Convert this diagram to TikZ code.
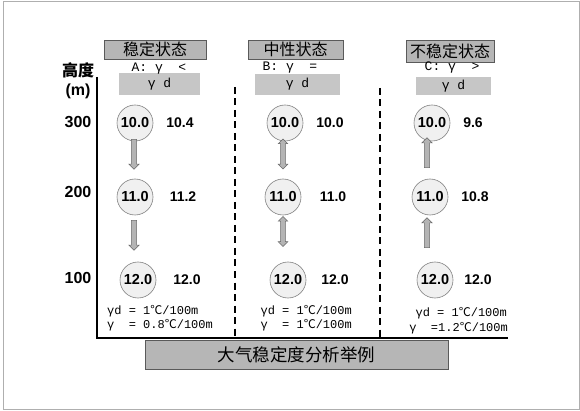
\documentclass[tikz,border=0pt]{standalone}
\usepackage{fontspec}
\setmainfont{Liberation Sans}
\setmonofont{Liberation Mono}
\newfontfamily\cjk{Noto Sans CJK SC}
\usetikzlibrary{shapes.arrows,calc}
\definecolor{hdrfill}{RGB}{182,182,182}
\definecolor{hdrdraw}{RGB}{90,90,90}
\definecolor{gdfill}{RGB}{198,198,198}
\definecolor{circfill}{RGB}{240,240,240}
\definecolor{circdraw}{RGB}{130,130,130}
\definecolor{arrfill}{RGB}{180,180,180}
\definecolor{arrdraw}{RGB}{105,105,105}
\definecolor{framec}{RGB}{175,175,175}
\newcommand{\degc}{{\cjk ℃}}
\begin{document}
\begin{tikzpicture}[x=1pt,y=-1pt,
 hdr/.style={draw=hdrdraw,fill=hdrfill,line width=0.8pt,inner sep=0,font=\cjk\fontsize{16}{16}\selectfont},
 gdbox/.style={fill=gdfill,inner sep=0,font=\ttfamily\fontsize{13}{13}\selectfont},
 cond/.style={inner sep=0,font=\ttfamily\fontsize{13}{13}\selectfont},
 circ/.style={circle,draw=circdraw,fill=circfill,line width=0.6pt,minimum size=36pt,inner sep=0,font=\bfseries\fontsize{14.5}{14.5}\selectfont},
 val/.style={inner sep=0,font=\bfseries\fontsize{14}{14}\selectfont},
 rowlab/.style={inner sep=0,font=\bfseries\fontsize{16}{16}\selectfont},
 formula/.style={inner sep=0,font=\ttfamily\fontsize{12}{12}\selectfont},
 blockarrow/.style={single arrow,draw=arrdraw,fill=arrfill,line width=0.5pt,inner sep=2.4pt,single arrow head extend=2.6pt,single arrow head indent=0pt,minimum height=30pt,shape border rotate=#1},
 dblarrow/.style={double arrow,draw=arrdraw,fill=arrfill,line width=0.5pt,inner sep=2.2pt,double arrow head extend=2.3pt,double arrow head indent=0pt,minimum height=30pt,shape border rotate=90},
 sep/.style={line width=2.2pt,dash pattern=on 7pt off 4.5pt}
]
\useasboundingbox (0,0) rectangle (580,411);
\fill[white] (0,0) rectangle (580,411);
\draw[framec,line width=1pt] (3,2) rectangle (579,409);

% headers
\node[hdr,minimum width=102pt,minimum height=19pt] (hA) at (155,49.5) {稳定状态};
\node[hdr,minimum width=95pt,minimum height=19pt] (hB) at (295.5,49.5) {中性状态};
\node[hdr,minimum width=88pt,minimum height=22pt] (hC) at (450,51) {不稳定状态};
\node[gdbox,minimum width=81pt,minimum height=22pt] (gA) at (159.5,84) {γ d};
\node[gdbox,minimum width=85pt,minimum height=21pt] (gB) at (297.5,84.5) {γ d};
\node[gdbox,minimum width=75pt,minimum height=18pt] (gC) at (453.5,86) {γ d};
\node[cond] (cA) at (159,69) {A:\ γ \ <};
\node[cond] (cB) at (290,67.5) {B:\ γ \ =};
\node[cond] (cC) at (452,68) {C:\ γ \ >};

% axis
\node[inner sep=0,font=\cjk\bfseries\fontsize{16}{16}\selectfont] (ht) at (78,70) {高度};
\node[rowlab] (unit) at (78,91) {(m)};
\coordinate (axTop) at (97,77);
\coordinate (axCorner) at (97,338);
\coordinate (axEnd) at (508,338);
\draw[line width=1.6pt] (axTop) -- (axCorner) -- (axEnd);
\node[rowlab] (r300) at (78,122) {300};
\node[rowlab] (r200) at (78,192) {200};
\node[rowlab] (r100) at (78,278) {100};

% separators
\coordinate (s1t) at (235,87);
\coordinate (s1b) at (235,338);
\coordinate (s2t) at (380,88);
\coordinate (s2b) at (380,338);
\draw[sep] (s1t) -- (s1b);
\draw[sep] (s2t) -- (s2b);

% column A
\node[circ] (a1) at (135,123) {10.0};
\node[circ] (a2) at (135,197) {11.0};
\node[circ] (a3) at (138,280) {12.0};
\node[val] (va1) at (180,123) {10.4};
\node[val] (va2) at (183,197) {11.2};
\node[val] (va3) at (187,280) {12.0};
\node[blockarrow=270] (arA1) at (134,153) {};
\node[blockarrow=270] (arA2) at (134,234) {};

% column B
\node[circ] (b1) at (285,123) {10.0};
\node[circ] (b2) at (283,197) {11.0};
\node[circ] (b3) at (288,280) {12.0};
\node[val] (vb1) at (330,123) {10.0};
\node[val] (vb2) at (333,197) {11.0};
\node[val] (vb3) at (335,280) {12.0};
\node[dblarrow] (arB1) at (283,154) {};
\node[dblarrow] (arB2) at (283,231.5) {};

% column C
\node[circ] (c1) at (432,123) {10.0};
\node[circ] (c2) at (430,197) {11.0};
\node[circ] (c3) at (435,280) {12.0};
\node[val] (vc1) at (473,123) {9.6};
\node[val] (vc2) at (475,197) {10.8};
\node[val] (vc3) at (478,280) {12.0};
\node[blockarrow=90] (arC1) at (427,154) {};
\node[blockarrow=90] (arC2) at (427,234) {};

% formulas
\node[formula,anchor=west] (fA1) at (107,311) {γd = 1\degc/100m};
\node[formula,anchor=west] (fA2) at (107,325) {γ\ \ = 0.8\degc/100m};
\node[formula,anchor=east] (fB1) at (352,311) {γd = 1\degc/100m};
\node[formula,anchor=east] (fB2) at (352,325) {γ\ \ = 1\degc/100m};
\node[formula,anchor=east] (fC1) at (507,313) {γd = 1\degc/100m};
\node[formula,anchor=east] (fC2) at (508,328) {γ\ \ =1.2\degc/100m};

% title
\node[draw=hdrdraw,fill=hdrfill,line width=0.8pt,minimum width=303pt,minimum height=29pt,inner sep=0,font=\cjk\fontsize{17.5}{17.5}\selectfont] (title) at (296.5,354.5) {大气稳定度分析举例};
\end{tikzpicture}
\end{document}
